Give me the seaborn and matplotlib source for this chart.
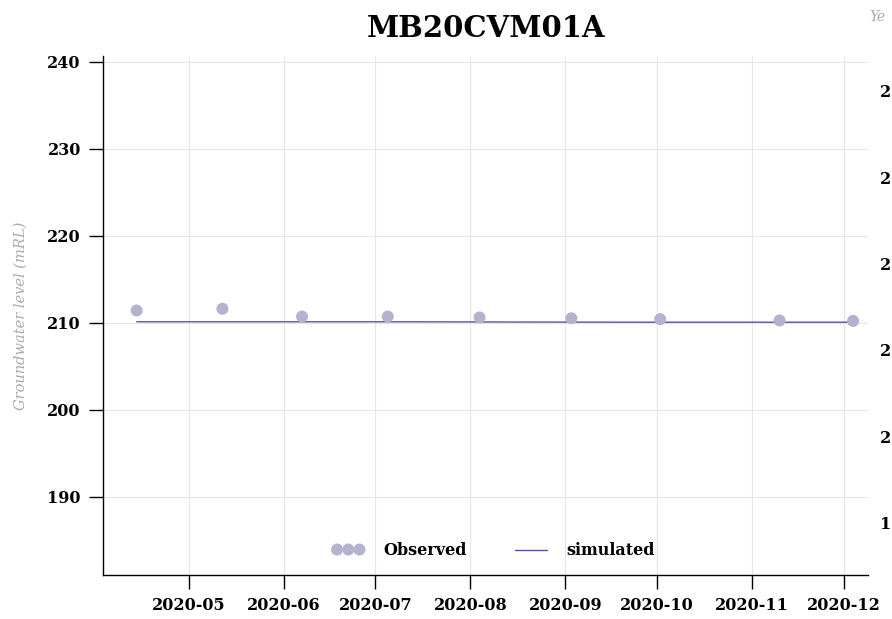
import pandas as pd
import numpy as np
import matplotlib.pyplot as plt
import matplotlib.dates as mdates
import seaborn as sns

sns.set_style("whitegrid")
plt.rcParams['font.family'] = ['DejaVu Serif', 'DejaVu Sans']
plt.rcParams['text.color'] = 'black'
plt.rcParams['xtick.color'] = 'black'
plt.rcParams['ytick.color'] = 'black'

# Data
obs_dates = ['2020-04-14', '2020-05-12', '2020-06-07', '2020-07-05', '2020-08-04',
             '2020-09-03', '2020-10-02', '2020-11-10', '2020-12-04']
obs_level = [211.4, 211.6, 210.7, 210.7, 210.6, 210.5, 210.4, 210.25, 210.2]
sim_level = [210.1, 210.1, 210.1, 210.1, 210.08, 210.06, 210.05, 210.05, 210.05]
y_ticks = [190, 200, 210, 220, 230, 240]
x_ticks = ['2020-05-01', '2020-06-01', '2020-07-01', '2020-08-01', '2020-09-01',
           '2020-10-01', '2020-11-01', '2020-12-01']

df = pd.DataFrame({'date': pd.to_datetime(obs_dates),
                   'observed': obs_level,
                   'simulated': sim_level})

fig = plt.figure(figsize=(8.92, 6.19), dpi=100)
ax = fig.add_axes([0.1155, 0.071, 0.858, 0.838])

sns.lineplot(data=df, x='date', y='simulated', ax=ax, color='#55559f',
             linewidth=1.0, label='simulated', zorder=2)
sns.scatterplot(data=df, x='date', y='observed', ax=ax, color='#b3b3cf',
                s=75, edgecolor='none', label='Observed', zorder=3)

ax.set_xlim(pd.Timestamp('2020-04-03'), pd.Timestamp('2020-12-09'))
ax.set_ylim(181, 240.6)
ax.set_yticks(y_ticks)
ax.set_xticks(pd.to_datetime(x_ticks))
ax.xaxis.set_major_formatter(mdates.DateFormatter('%Y-%m'))

ax.grid(True, color='#e6e6e6', linewidth=0.8)
for side in ['top', 'right']:
    ax.spines[side].set_visible(False)
for side in ['left', 'bottom']:
    ax.spines[side].set_color('black')
    ax.spines[side].set_linewidth(1.0)

ax.tick_params(axis='both', which='major', direction='out', length=10, width=1,
               color='black', labelsize=11.5, pad=6, bottom=True, left=True)
for lab in ax.get_xticklabels() + ax.get_yticklabels():
    lab.set_fontweight('bold')

ax.set_xlabel('')
ax.set_ylabel('Groundwater level (mRL)', fontsize=10.5, style='italic',
              color='#aaaaaa', labelpad=14)
ax.set_title('MB20CVM01A', fontsize=21, fontweight='bold', pad=14)

handles, labels = ax.get_legend_handles_labels()
order = [labels.index('Observed'), labels.index('simulated')]
ax.legend([handles[i] for i in order], [labels[i] for i in order],
          loc='lower center', bbox_to_anchor=(0.51, 0.003), ncol=2, frameon=False,
          scatterpoints=3, scatteryoffsets=[0.5], markerscale=1.0,
          prop={'weight': 'bold', 'size': 11.5},
          columnspacing=3.0, handletextpad=1.2)

# neighbouring chart cut off at the right edge
fig.text(0.975, 0.972, 'Ye', fontsize=10, style='italic', color='#aaaaaa',
         ha='left', va='center')
for i, t in enumerate(y_ticks[::-1]):
    fig.text(0.999, 0.85 - i * 0.1395, str(t)[0], fontsize=11.5, fontweight='bold',
             ha='right', va='center')

fig.savefig('out.png', dpi=100)
